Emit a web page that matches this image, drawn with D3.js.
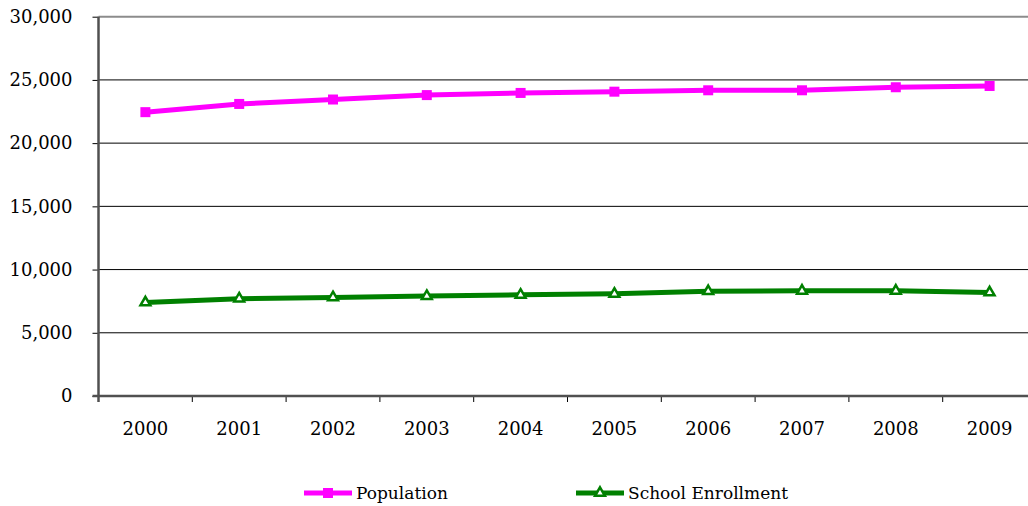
<!DOCTYPE html>
<html>
<head>
<meta charset="utf-8">
<script src="https://cdn.jsdelivr.net/npm/d3@7"></script>
<style>
  html, body { margin: 0; padding: 0; background: #fff; }
  svg { display: block; }
  text { font-family: "DejaVu Serif", serif; fill: #000; }
</style>
</head>
<body>
<svg id="chart" width="1028" height="506"></svg>
<script>
// Annual figures, 2000–2009
const years = ["2000", "2001", "2002", "2003", "2004", "2005", "2006", "2007", "2008", "2009"];
const population = [22450, 23100, 23450, 23800, 23970, 24070, 24180, 24180, 24420, 24520];
const enrollment = [7400, 7700, 7800, 7900, 8000, 8080, 8290, 8320, 8320, 8190];
const yTicks = [0, 5000, 10000, 15000, 20000, 25000, 30000];
const seriesNames = ["Population", "School Enrollment"];

const svg = d3.select("#chart");
const plot = { left: 98.5, top: 16.7, bottom: 396, bandW: 93.8 };
plot.right = plot.left + plot.bandW * years.length;

const x = d3.scaleBand().domain(years).range([plot.left, plot.right]).padding(0);
const y = d3.scaleLinear().domain([0, 30000]).range([plot.bottom, plot.top]);
const fmt = d3.format(",");

// horizontal gridlines
svg.append("g")
  .selectAll("line")
  .data(yTicks.filter(v => v > 0 && v < 30000))
  .join("line")
  .attr("x1", plot.left).attr("x2", plot.right)
  .attr("y1", d => y(d)).attr("y2", d => y(d))
  .attr("stroke", "#000").attr("stroke-width", 1);

// top border line
svg.append("line")
  .attr("x1", plot.left).attr("x2", plot.right)
  .attr("y1", y(30000)).attr("y2", y(30000))
  .attr("stroke", "#8c8c8c").attr("stroke-width", 2);

// y axis
const yAxis = svg.append("g")
  .attr("transform", `translate(${plot.left},0)`)
  .call(d3.axisLeft(y).tickValues(yTicks).tickFormat(fmt).tickSize(6).tickPadding(20));
yAxis.select(".domain").remove();
yAxis.selectAll(".tick line").attr("stroke", "#000").attr("stroke-width", 1);
yAxis.selectAll("text").style("font-size", "18px").style("font-family", "DejaVu Serif, serif").attr("fill", "#000");
svg.append("line")
  .attr("x1", plot.left).attr("x2", plot.left)
  .attr("y1", plot.top).attr("y2", plot.bottom + 6)
  .attr("stroke", "#505050").attr("stroke-width", 2.5);

// x axis
const xAxis = svg.append("g")
  .attr("transform", `translate(0,${plot.bottom})`)
  .call(d3.axisBottom(x).tickSize(0).tickPadding(26));
xAxis.select(".domain").remove();
xAxis.selectAll("text").style("font-size", "18px").style("font-family", "DejaVu Serif, serif").attr("fill", "#000");
svg.append("g")
  .selectAll("line")
  .data(years.slice(1))
  .join("line")
  .attr("x1", d => x(d)).attr("x2", d => x(d))
  .attr("y1", plot.bottom).attr("y2", plot.bottom + 6)
  .attr("stroke", "#000").attr("stroke-width", 1);
svg.append("line")
  .attr("x1", plot.left - 6).attr("x2", plot.right)
  .attr("y1", plot.bottom).attr("y2", plot.bottom)
  .attr("stroke", "#505050").attr("stroke-width", 2.5);

const cx = d => x(d) + x.bandwidth() / 2;
const line = d3.line().x(d => cx(d.year)).y(d => y(d.value));

function drawSeries(values, color, marker) {
  const data = years.map((yr, i) => ({ year: yr, value: values[i] }));
  svg.append("path")
    .datum(data)
    .attr("d", line)
    .attr("fill", "none")
    .attr("stroke", color)
    .attr("stroke-width", 5)
    .attr("stroke-linejoin", "round");
  const g = svg.append("g");
  data.forEach(d => marker(g, cx(d.year), y(d.value)));
}

function squareMarker(g, px, py) {
  g.append("rect")
    .attr("x", px - 5).attr("y", py - 5)
    .attr("width", 10).attr("height", 10)
    .attr("fill", "#ff00ff");
}
function triangleMarker(g, px, py) {
  g.append("path")
    .attr("d", d3.symbol().type(d3.symbolTriangle).size(42)())
    .attr("transform", `translate(${px},${py})`)
    .attr("fill", "#fff")
    .attr("stroke", "#008000")
    .attr("stroke-width", 2.5);
}

drawSeries(population, "#ff00ff", squareMarker);
drawSeries(enrollment, "#008000", triangleMarker);

// legend
const legend = [
  { name: seriesNames[0], color: "#ff00ff", marker: squareMarker, x0: 304 },
  { name: seriesNames[1], color: "#008000", marker: triangleMarker, x0: 576 }
];
const ly = 493;
legend.forEach(item => {
  svg.append("line")
    .attr("x1", item.x0).attr("x2", item.x0 + 48)
    .attr("y1", ly).attr("y2", ly)
    .attr("stroke", item.color).attr("stroke-width", 5);
  item.marker(svg, item.x0 + 24, ly);
  svg.append("text")
    .attr("x", item.x0 + 52).attr("y", ly)
    .attr("dy", "0.35em")
    .style("font-size", "17px")
    .text(item.name);
});
</script>
</body>
</html>
